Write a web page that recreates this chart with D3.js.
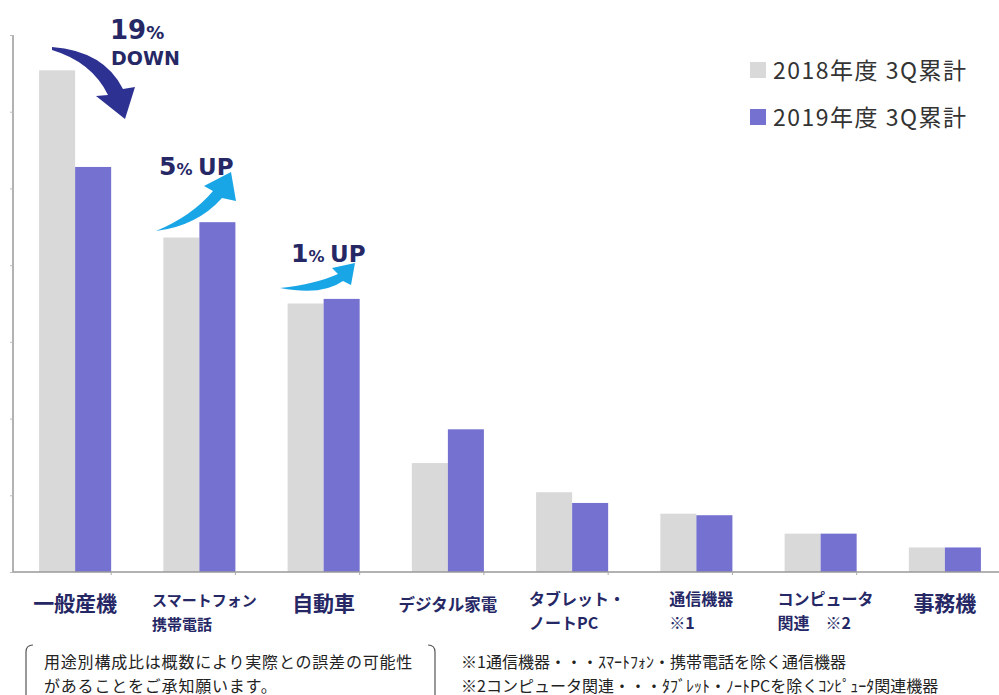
<!DOCTYPE html>
<html>
<head>
<meta charset="utf-8">
<script src="https://cdn.jsdelivr.net/npm/d3@7"></script>
<style>
  body { margin: 0; background: #fff; }
  svg { display: block; font-family: "Noto Sans CJK JP", "Noto Sans", sans-serif; }
</style>
</head>
<body>
<svg id="chart"></svg>
<script>
// data (share of sales, %)
const categories = ["一般産機", "スマートフォン携帯電話", "自動車", "デジタル家電", "タブレット・ノートPC", "通信機器", "コンピュータ関連", "事務機"];
const categoryLines = [["一般産機"], ["スマートフォン", "携帯電話"], ["自動車"], ["デジタル家電"], ["タブレット・", "ノートPC"], ["通信機器", "※1"], ["コンピュータ", "関連　※2"], ["事務機"]];
const seriesNames = ["2018年度 3Q累計", "2019年度 3Q累計"];
const fy2018 = [32.7, 21.8, 17.5, 7.1, 5.2, 3.8, 2.5, 1.6];
const fy2019 = [26.4, 22.8, 17.8, 9.3, 4.5, 3.7, 2.5, 1.6];
const yTicks = [0, 5, 10, 15, 20, 25, 30, 35];
const notes = ["用途別構成比は概数により実際との誤差の可能性", "があることをご承知願います。"];
const footnotes = ["※1通信機器・・・ｽﾏｰﾄﾌｫﾝ・携帯電話を除く通信機器", "※2コンピュータ関連・・・ﾀﾌﾞﾚｯﾄ・ﾉｰﾄPCを除くｺﾝﾋﾟｭｰﾀ関連機器"];

const width = 999, height = 695;
const plot = { left: 13, top: 35, bottom: 572 };
const colors = ["#d9d9d9", "#7571d0"];
const navy = "#262866";

const svg = d3.select("#chart").attr("width", width).attr("height", height);
svg.append("rect").attr("width", width).attr("height", height).attr("fill", "#fff");

const x0 = d3.scaleBand()
  .domain(categories)
  .range([plot.left, plot.left + 8 * 124.25])
  .paddingInner(0.42)
  .paddingOuter(0.21);

const x1 = d3.scaleBand()
  .domain(seriesNames)
  .range([0, x0.bandwidth()]);

const y = d3.scaleLinear()
  .domain([0, 35])
  .range([plot.bottom, plot.top]);

const rows = categories.map((c, i) => ({ cat: c, vals: [fy2018[i], fy2019[i]] }));

// bars
const groups = svg.append("g").selectAll("g")
  .data(rows)
  .join("g")
  .attr("transform", d => `translate(${x0(d.cat)},0)`);

groups.selectAll("rect")
  .data(d => d.vals.map((v, j) => ({ name: seriesNames[j], v, j })))
  .join("rect")
  .attr("x", d => x1(d.name))
  .attr("width", x1.bandwidth())
  .attr("y", d => y(d.v))
  .attr("height", d => y(0) - y(d.v))
  .attr("fill", d => colors[d.j]);

// y axis (no labels)
const yAxis = d3.axisLeft(y).tickValues(yTicks).tickSize(3).tickFormat("");
svg.append("g")
  .attr("transform", `translate(${plot.left},0)`)
  .call(yAxis)
  .call(g => g.select(".domain").attr("stroke", "#999").attr("stroke-width", 1.5).attr("d", `M0,${plot.top}V${plot.bottom}`))
  .call(g => g.selectAll(".tick line").attr("stroke", "#bbb"));

// x baseline with boundary ticks
const step = x0.step();
svg.append("line")
  .attr("x1", plot.left).attr("x2", width)
  .attr("y1", y(0)).attr("y2", y(0))
  .attr("stroke", "#999").attr("stroke-width", 1.5);
svg.append("g").selectAll("line")
  .data(categories.slice(1))
  .join("line")
  .attr("x1", d => x0(d) - x0.paddingInner() * step)
  .attr("x2", d => x0(d) - x0.paddingInner() * step)
  .attr("y1", y(0)).attr("y2", y(0) + 3)
  .attr("stroke", "#aaa");

// category labels
const labelStyle = [
  { size: 21, dy: 0 }, { size: 15, dy: -5 }, { size: 21, dy: 0 }, { size: 16.5, dy: 0 },
  { size: 16, dy: -6 }, { size: 16, dy: -6 }, { size: 16, dy: -6 }, { size: 21, dy: 0 }
];
const labelG = svg.append("g").attr("fill", navy).attr("font-weight", "bold");
categoryLines.forEach((lines, i) => {
  const cx = x0(categories[i]) + x0.bandwidth() / 2;
  const st = labelStyle[i];
  const t = labelG.append("text")
    .attr("font-size", st.size)
    .attr("y", 611 + st.dy);
  lines.forEach((ln, k) => {
    t.append("tspan").attr("dy", k === 0 ? 0 : 23.5).text(ln);
  });
  let w = 0;
  t.selectAll("tspan").each(function () { w = Math.max(w, this.getComputedTextLength()); });
  const left = cx - w / 2 + (lines.length > 1 ? 5 : 0);
  t.selectAll("tspan").attr("x", left);
});

// legend
const legend = svg.append("g").attr("transform", "translate(750,62)");
seriesNames.forEach((name, i) => {
  const row = legend.append("g").attr("transform", `translate(0,${i * 47})`);
  row.append("rect").attr("width", 16).attr("height", 16).attr("fill", colors[i]);
  row.append("text").attr("x", 23).attr("y", 17)
    .attr("font-size", 23).attr("letter-spacing", 1.5).attr("fill", "#333").text(name);
});

// annotations: change labels and curved arrows
const ann = svg.append("g").attr("fill", navy).attr("font-weight", "bold")
  .attr("font-family", "'DejaVu Sans', Verdana, sans-serif");
function pctLabel(xp, yp, num, word) {
  const t = ann.append("text").attr("x", xp).attr("y", yp);
  t.append("tspan").attr("font-size", 25).text(num);
  t.append("tspan").attr("font-size", 16).text("% ");
  t.append("tspan").attr("font-size", 23).text(word);
  return t;
}
const t19 = ann.append("text").attr("x", 110).attr("y", 39);
t19.append("tspan").attr("font-size", 26).text("19");
t19.append("tspan").attr("font-size", 18).text("%");
ann.append("text").attr("x", 111).attr("y", 65).attr("font-size", 19).text("DOWN");
pctLabel(159, 175, "5", "UP");
pctLabel(291, 262, "1", "UP");

// down arrow (dark blue)
svg.append("path")
  .attr("d", "M52,47 Q104,51 123,89 L135,87 L125,119 L96,96 L108,95 Q92,62 52,50 Z")
  .attr("fill", "#2d3192");
// up arrows (cyan)
svg.append("path")
  .attr("d", "M156,231 Q197,226 222,198 L236,201 L231,172 L204,186 L213,191 Q192,216 156,231 Z")
  .attr("fill", "#19a6e6");
svg.append("path")
  .attr("d", "M280,288 Q322,296 343,281 L351,285 L355,263 L332,268 L338,274 Q316,284 280,288 Z")
  .attr("fill", "#19a6e6");

// bottom notes
const nb = svg.append("g").attr("fill", "none").attr("stroke", "#555").attr("stroke-width", 1.2);
nb.append("path").attr("d", "M33,645 Q26,645 26,652 L26,700");
nb.append("path").attr("d", "M428,645 Q435,645 435,652 L435,700");
const nt = svg.append("g").attr("font-size", 16).attr("fill", "#222");
notes.forEach((s, i) => nt.append("text").attr("x", 44).attr("y", 668 + i * 23.5)
  .attr("letter-spacing", 0.8).text(s));
footnotes.forEach((s, i) => nt.append("text").attr("x", 461).attr("y", 668 + i * 23.5).text(s));
</script>
</body>
</html>
